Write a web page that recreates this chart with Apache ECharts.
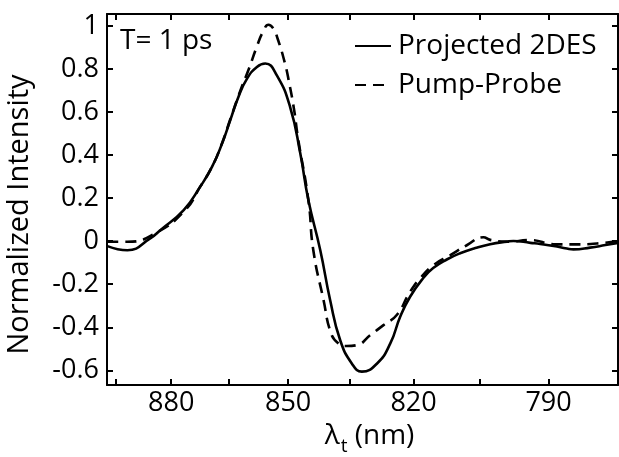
<!DOCTYPE html>
<html>
<head>
<meta charset="utf-8">
<script src="https://cdn.jsdelivr.net/npm/echarts@6/dist/echarts.min.js"></script>
<style>
html,body{margin:0;padding:0;background:#fff;}
#chart{width:619px;height:457px;}
</style>
</head>
<body>
<div id="chart"></div>
<script>
// Wavelength (nm) samples and values
const wavelengthProjected = [897.3, 891.8, 885.6, 882.9, 876.7, 872.4, 869.3, 866.7, 864.6, 862.5, 860.3, 857.8, 855.7, 852.8, 849.5, 847.0, 845.0, 842.1, 839.7, 837.3, 834.5, 832.1, 828.5, 825.4, 823.1, 820.8, 817.8, 815.5, 812.3, 809.4, 806.0, 802.7, 799.0, 797.6, 793.9, 791.8, 788.9, 786.1, 784.7, 781.2, 778.0, 775.4];
const projected2DES = [-0.023, -0.042, 0.013, 0.051, 0.144, 0.252, 0.345, 0.453, 0.561, 0.670, 0.755, 0.809, 0.825, 0.770, 0.623, 0.408, 0.190, -0.042, -0.274, -0.459, -0.568, -0.606, -0.568, -0.475, -0.351, -0.258, -0.172, -0.125, -0.084, -0.056, -0.032, -0.014, -0.002, 0.001, -0.008, -0.013, -0.022, -0.034, -0.038, -0.030, -0.018, -0.008];

const wavelengthPumpProbe = [897.3, 891.8, 884.3, 876.3, 872.4, 869.3, 866.7, 864.6, 861.8, 859.9, 857.8, 856.2, 854.9, 853.6, 852.6, 850.8, 849.7, 848.5, 847.6, 845.0, 843.8, 841.3, 839.5, 837.7, 835.7, 833.3, 830.1, 827.0, 823.9, 820.8, 818.5, 815.4, 811.6, 807.9, 804.2, 802.7, 799.0, 793.9, 788.9, 784.7, 779.8, 775.4];
const pumpProbe = [-0.003, -0.003, 0.036, 0.144, 0.252, 0.345, 0.455, 0.565, 0.709, 0.797, 0.905, 0.975, 1.005, 0.985, 0.940, 0.827, 0.732, 0.608, 0.484, 0.190, -0.042, -0.274, -0.427, -0.475, -0.487, -0.483, -0.436, -0.390, -0.343, -0.235, -0.173, -0.111, -0.065, -0.019, 0.018, 0.006, -0.003, 0.005, -0.014, -0.015, -0.011, 0.001];

const xMajorTicks = [880, 850, 820, 790];      // labelled wavelengths (nm)
const xMinorTicks = [895, 865, 835, 805];      // unlabelled wavelengths (nm)
const yTicks = [-0.6, -0.4, -0.2, 0, 0.2, 0.4, 0.6, 0.8, 1];
const xRangeNm = [897.4, 775.4];
const yRange = [-0.668, 1.055];

// axis is linear in wavenumber (cm^-1); labels show wavelength
const toK = nm => 1e7 / nm;
const FONT = 'Open Sans';

const chart = echarts.init(document.getElementById('chart'), null, {renderer: 'canvas'});
const kMajor = xMajorTicks.map(toK);
const kAll = xMajorTicks.concat(xMinorTicks).map(toK).sort((a, b) => a - b);

const xCommon = {
  type: 'value',
  min: toK(xRangeNm[0]),
  max: toK(xRangeNm[1]),
  axisLine: {show: true, onZero: false, lineStyle: {color: '#000', width: 2}},
  axisTick: {show: true, inside: true, length: 6, customValues: kAll, lineStyle: {color: '#000', width: 2}},
  splitLine: {show: false}
};
const yCommon = {
  type: 'value',
  min: yRange[0],
  max: yRange[1],
  axisLine: {show: true, onZero: false, lineStyle: {color: '#000', width: 2}},
  axisTick: {show: true, inside: true, length: 6, customValues: yTicks, lineStyle: {color: '#000', width: 2}},
  splitLine: {show: false}
};

chart.setOption({
  animation: false,
  backgroundColor: '#fff',
  grid: {left: 107, right: 1, top: 14, bottom: 72, containLabel: false, outerBoundsMode: 'none'},
  xAxis: [
    Object.assign({}, xCommon, {
      position: 'bottom',
      axisLabel: {show: true, customValues: kMajor, formatter: v => String(Math.round(1e7 / v)),
        color: '#000', fontFamily: FONT, fontSize: 27, margin: 5},
      name: '{p|}{a|λ}{s|t}{a| (nm)}',
      nameLocation: 'middle',
      nameGap: 36,
      nameTextStyle: {
        color: '#000',
        rich: {
          p: {width: 14, lineHeight: 30, verticalAlign: 'top'},
          a: {fontFamily: FONT, fontSize: 28, color: '#000', lineHeight: 30, verticalAlign: 'top'},
          s: {fontFamily: FONT, fontSize: 19, color: '#000', lineHeight: 19, padding: [15, 0, 0, 1], verticalAlign: 'top'}
        }
      }
    }),
    Object.assign({}, xCommon, {position: 'top', axisLabel: {show: false}})
  ],
  yAxis: [
    Object.assign({}, yCommon, {
      position: 'left',
      axisLabel: {show: true, customValues: yTicks, formatter: v => String(Number(v.toFixed(1))),
        color: '#000', fontFamily: FONT, fontSize: 27, margin: 8},
      name: 'Normalized Intensity',
      nameLocation: 'middle',
      nameGap: 73,
      nameTextStyle: {color: '#000', fontFamily: FONT, fontSize: 29, padding: [0, 30, 0, 0]}
    }),
    Object.assign({}, yCommon, {position: 'right', axisLabel: {show: false}})
  ],
  legend: {
    orient: 'vertical',
    left: 349,
    top: 26,
    itemWidth: 36,
    itemHeight: 14,
    itemGap: 9,
    itemStyle: {color: 'rgba(0,0,0,0)', borderColor: 'rgba(0,0,0,0)', borderWidth: 0},
    textStyle: {color: '#000', fontFamily: FONT, fontSize: 28, lineHeight: 30, padding: [0, 0, 0, 2]},
    data: ['Projected 2DES', 'Pump-Probe']
  },
  graphic: [{
    type: 'text',
    x: 120,
    y: 41,
    style: {text: 'T= 1 ps', fill: '#000', font: '28px "Open Sans"', verticalAlign: 'middle', align: 'left'}
  }],
  series: [
    {
      name: 'Projected 2DES',
      type: 'line',
      xAxisIndex: 0, yAxisIndex: 0,
      symbol: 'none',
      smooth: 0.5,
      lineStyle: {color: '#000', width: 2.6, type: 'solid'},
      itemStyle: {color: '#000'},
      data: wavelengthProjected.map((w, i) => [toK(w), projected2DES[i]]),
      z: 3
    },
    {
      name: 'Pump-Probe',
      type: 'line',
      xAxisIndex: 0, yAxisIndex: 0,
      symbol: 'none',
      smooth: 0.5,
      lineStyle: {color: '#000', width: 2.6, type: [11, 7]},
      itemStyle: {color: '#000'},
      data: wavelengthPumpProbe.map((w, i) => [toK(w), pumpProbe[i]]),
      z: 2
    }
  ]
});
</script>
</body>
</html>
